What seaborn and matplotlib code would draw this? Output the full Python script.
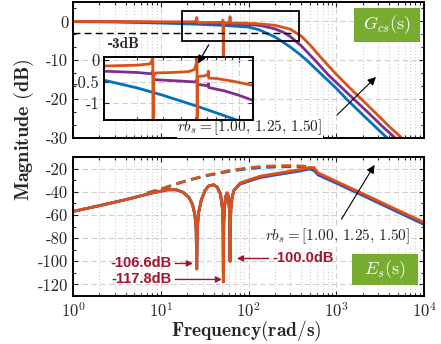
import matplotlib
matplotlib.use("Agg")
import matplotlib.pyplot as plt
import seaborn as sns
from matplotlib.patches import Rectangle
from matplotlib.ticker import LogLocator, NullFormatter, AutoMinorLocator

# ---------------- data ----------------
# Top: G_cs(s) magnitude (dB), three rb_s values
g_blue_f = [1, 3, 6, 12, 25, 50, 100, 130, 160, 200, 250, 300, 376, 461, 700, 1000, 1310, 2000, 3000, 3800, 4500]
g_blue_db = [-0.05, -0.15, -0.3, -0.47, -0.7, -1.0, -1.45, -2.1, -3.0, -4.0, -5.4, -6.6, -8.3, -10, -13.9, -17.2, -20, -24, -27.8, -30, -31.6]
g_purple_f = [1, 5, 12, 25, 27, 50, 54, 80, 125, 150, 200, 250, 300, 400, 573, 800, 1000, 1640, 2500, 3500, 4700, 5500]
g_purple_db = [0, -0.1, -0.26, -0.33, -0.45, -0.5, -0.58, -0.75, -0.94, -1.25, -1.9, -2.8, -3.9, -6.3, -10, -13.6, -15.7, -20.3, -24.2, -27.4, -30, -31.5]
g_orange_f = [1, 10, 20, 25.2, 25.7, 26.2, 30, 50, 51.2, 51.7, 52.2, 55, 61.1, 61.6, 62.1, 80, 125, 200, 300, 400, 500, 713, 1000, 1500, 2000, 3000, 4000, 5600, 6500]
g_orange_db = [0, -0.1, -0.1, -0.05, 1.0, -0.3, -0.3, -0.25, 0.3, -12, -0.4, -0.37, -0.3, 1.2, -0.42, -0.45, -0.59, -1.0, -2.0, -3.8, -6.0, -10.0, -13.6, -17.6, -20.3, -24.2, -27.0, -30, -31.5]

# Inset detail of G_cs(s)
in_blue_f = [11.8, 20, 30, 51, 70, 97.5, 125]
in_blue_db = [-0.47, -0.65, -0.82, -1.07, -1.23, -1.4, -1.6]
in_purple_f = [11.8, 20, 25, 25.6, 25.8, 27, 40, 50, 51.6, 51.8, 53, 61.4, 61.7, 62, 80, 100, 125]
in_purple_db = [-0.26, -0.29, -0.32, -0.26, -0.45, -0.46, -0.49, -0.51, -0.46, -0.57, -0.57, -0.6, -0.55, -0.64, -0.72, -0.82, -0.94]
in_orange_f = [11.8, 20, 24.5, 25.3, 25.55, 25.7, 25.85, 27, 35, 45, 49.5, 51.2, 51.55, 51.7, 51.85, 53, 58, 61.3, 61.6, 62, 70, 90, 125]
in_orange_db = [-0.14, -0.12, -0.09, -0.02, 0.04, -3.0, -0.35, -0.3, -0.29, -0.27, -0.22, -0.05, 0.04, -3.0, -0.42, -0.38, -0.37, -0.33, -0.26, -0.42, -0.43, -0.49, -0.59]

# Bottom: E_s(s) magnitude (dB)
e_f = [1, 2, 4, 8, 12, 15, 18, 21, 23, 24.5, 25.3, 25.7, 26.1, 27, 29, 32, 35, 40, 44, 48, 50.5, 51.3, 51.7,
       52.2, 53.5, 55, 57, 59, 60.5, 61.2, 61.6, 62.1, 63, 65, 68, 80, 104, 135, 228, 386, 500, 560, 620,
       1000, 2000, 5000, 10000]
e_low = [-57, -52, -46.8, -41, -38.3, -38.3, -40.5, -45, -51, -60, -72, -106.6, -72, -58, -47, -39, -35, -34,
         -36, -42, -55, -70, -117.8, -68, -52, -44, -41, -44, -55, -70, -100, -68, -55, -45, -39]
e_orange_db = e_low + [-32.5, -29.5, -26.6, -23.7, -20.9, -19.0, -19.2, -23.7, -31.0, -41.6, -55.8, -66.4]
e_purple_db = e_low + [-32.9, -30.0, -27.2, -24.3, -21.5, -19.6, -20.4, -24.6, -31.8, -42.4, -56.6, -67.3]
e_blue_db = e_low + [-33.4, -30.6, -27.8, -24.9, -22.1, -20.3, -21.8, -25.5, -32.6, -43.2, -57.5, -68.2]

e_dash_f = [7, 10, 14, 20, 33, 61, 100, 135, 200, 300, 420, 500]
e_dash_orange = [-41, -37.8, -34, -30.3, -25.8, -21.7, -19.3, -18.3, -17.6, -17.4, -17.8, -19.0]
e_dash_blue = [-41, -37.8, -34, -30.3, -26.2, -22.3, -20.1, -19.3, -18.6, -18.4, -18.8, -20.0]

notch_f = [25.7, 51.7, 61.6]
notch_db = [-106.6, -117.8, -100.0]
notch_labels = ["-106.6dB", "-117.8dB", "-100.0dB"]
rb_text = r"$rb_s=[1.00,\,1.25,\,1.50]$"
ref_db = -3

C_BLUE, C_PURPLE, C_ORANGE = "#0072BD", "#7E2F8E", "#D95319"
C_RED = "#A2142F"
C_GREEN = "#77AC30"

# ---------------- style ----------------
sns.set_style("ticks")
plt.rcParams["font.family"] = ["cmr10", "DejaVu Serif"]
plt.rcParams["mathtext.fontset"] = "cm"
plt.rcParams["axes.unicode_minus"] = False
plt.rcParams["axes.formatter.use_mathtext"] = True

W, H = 441, 344
fig = plt.figure(figsize=(W / 100, H / 100), dpi=100)

def px_rect(x0, y0, x1, y1):
    return [x0 / W, 1 - y1 / H, (x1 - x0) / W, (y1 - y0) / H]

ax1 = fig.add_axes(px_rect(73, 2, 424, 138))
ax2 = fig.add_axes(px_rect(73, 157, 424, 296))
axi = fig.add_axes(px_rect(104, 57, 253, 120), zorder=5)

LW = 2.0

def style_axes(ax, fs=12):
    ax.set_xscale("log")
    for s in ax.spines.values():
        s.set_linewidth(1.4)
        s.set_color("black")
    ax.tick_params(which="both", direction="in", top=True, right=True, labelsize=fs, width=0.8)
    ax.tick_params(which="major", length=3.5)
    ax.tick_params(which="minor", length=2)
    ax.xaxis.set_major_locator(LogLocator(base=10, numticks=10))
    ax.xaxis.set_minor_locator(LogLocator(base=10, subs=range(2, 10), numticks=20))
    ax.xaxis.set_minor_formatter(NullFormatter())
    ax.grid(True, which="major", axis="both", ls=(0, (5, 3)), color="#cfcfcf", lw=0.8)
    ax.grid(True, which="minor", axis="x", ls=(0, (1, 2)), color="#cfcfcf", lw=0.8)
    ax.set_axisbelow(True)

# ---------------- top: G_cs ----------------
for f, v, c in [(g_blue_f, g_blue_db, C_BLUE), (g_purple_f, g_purple_db, C_PURPLE), (g_orange_f, g_orange_db, C_ORANGE)]:
    sns.lineplot(x=f, y=v, ax=ax1, color=c, lw=LW, estimator=None, sort=False)
style_axes(ax1)
ax1.set_xlim(1, 1e4)
ax1.set_ylim(-30, 5)
ax1.set_yticks([0, -10, -20, -30])
ax1.set_yticklabels(["0", "-10", "-20", "-30"])
ax1.yaxis.set_minor_locator(AutoMinorLocator(3))
ax1.set_xticklabels([])
ax1.set_xlabel("")
ax1.set_ylabel("")
ax1.plot([1, 323], [ref_db, ref_db], color="black", ls=(0, (5, 3)), lw=1.0)
ax1.add_patch(Rectangle((17.5, -5.1), 376 - 17.5, 7.66, fill=False, ec="black", lw=1.3, zorder=4))
ax1.text(3.8, -5.9, "-3dB", fontsize=11, family=["cmb10", "DejaVu Serif"], ha="center", va="center")
# green tag
ax1.add_patch(Rectangle((0.80, 0.706), 0.189, 0.25, transform=ax1.transAxes, fc=C_GREEN, ec="none", zorder=6))
ax1.text(0.8945, 0.831, r"$G_{cs}(\mathrm{s})$", transform=ax1.transAxes, color="white", fontsize=13,
         ha="center", va="center", zorder=7)
ax1.text(10 ** ((250 - 73) / 87.75), -(127 - 21) / 3.9, rb_text, fontsize=11, ha="center", va="center",
         zorder=6, bbox=dict(fc="white", ec="none", pad=0.5))
ax1.annotate("", xy=(2990, -13.8), xytext=(968, -24.6),
             arrowprops=dict(arrowstyle="-|>", color="black", lw=0.8, mutation_scale=12))

# ---------------- inset ----------------
for f, v, c in [(in_blue_f, in_blue_db, C_BLUE), (in_purple_f, in_purple_db, C_PURPLE), (in_orange_f, in_orange_db, C_ORANGE)]:
    sns.lineplot(x=f, y=v, ax=axi, color=c, lw=LW, estimator=None, sort=False)
style_axes(axi)
axi.set_facecolor("white")
axi.set_xlim(11.8, 125)
axi.set_ylim(-1.395, 0.07)
axi.set_yticks([0, -0.5, -1])
axi.set_yticklabels(["0", "-0.5", "-1"])
axi.set_xticklabels([])
axi.tick_params(which="both", labelbottom=False)
axi.set_xlabel("")
axi.set_ylabel("")
axi.annotate("", xy=(51.0, -0.14), xytext=(36.5, -5.4), textcoords=ax1.transData, annotation_clip=False,
             arrowprops=dict(arrowstyle="-|>", color="black", lw=0.9, mutation_scale=12))

# ---------------- bottom: E_s ----------------
for f, v, c in [(e_dash_f, e_dash_blue, C_BLUE), (e_dash_f, e_dash_orange, C_ORANGE)]:
    sns.lineplot(x=f, y=v, ax=ax2, color=c, lw=LW, estimator=None, sort=False)
    ax2.lines[-1].set_linestyle((0, (3.5, 2)))
for f, v, c in [(e_f, e_blue_db, C_BLUE), (e_f, e_purple_db, C_PURPLE), (e_f, e_orange_db, C_ORANGE)]:
    sns.lineplot(x=f, y=v, ax=ax2, color=c, lw=LW, estimator=None, sort=False)
style_axes(ax2)
ax2.set_xlim(1, 1e4)
ax2.set_ylim(-130, -10)
ax2.set_yticks([-20, -40, -60, -80, -100, -120])
ax2.set_yticklabels(["-20", "-40", "-60", "-80", "-100", "-120"])
ax2.yaxis.set_minor_locator(AutoMinorLocator(2))
ax2.set_xticks([1, 10, 100, 1000, 10000])
ax2.set_xticklabels([r"$10^{0}$", r"$10^{1}$", r"$10^{2}$", r"$10^{3}$", r"$10^{4}$"])
ax2.tick_params(axis="x", pad=4)
ax2.set_xlabel("")
ax2.set_ylabel("")

ann_text_xy = [(13.4, -101.9), (13.4, -115.7), (185, -97.6)]
ann_tip_xy = [(23.3, -101.9), (49.9, -115.7), (73.7, -97.6)]
for lab, txy, tip, ha in zip(notch_labels, ann_text_xy, ann_tip_xy, ["right", "right", "left"]):
    ax2.annotate(lab, xy=tip, xytext=txy, ha=ha, va="center", color=C_RED, fontsize=10.5, fontweight="bold",
                 family=["Liberation Sans"],
                 arrowprops=dict(arrowstyle="-|>", color=C_RED, lw=1.0, mutation_scale=9, shrinkA=0, shrinkB=0))

ax2.add_patch(Rectangle((0.795, 0.079), 0.188, 0.223, transform=ax2.transAxes, fc=C_GREEN, ec="none", zorder=6))
ax2.text(0.889, 0.19, r"$E_{s}(\mathrm{s})$", transform=ax2.transAxes, color="white", fontsize=13,
         ha="center", va="center", zorder=7)
ax2.text(10 ** ((338 - 73) / 87.75), -20 - (237 - 169) / 1.16, rb_text, fontsize=11, ha="center", va="center",
         zorder=6, bbox=dict(fc="white", ec="none", pad=0.5))
ax2.annotate("", xy=(2838, -14.8), xytext=(1104, -65.7),
             arrowprops=dict(arrowstyle="-|>", color="black", lw=0.8, mutation_scale=12))

# ---------------- labels ----------------
fig.text(24 / W, 1 - 130 / H, r"$\mathbf{Magnitude\ (dB)}$", rotation=90, ha="center", va="center", fontsize=14.5)
fig.text(246 / W, 1 - 331 / H, r"$\mathbf{Frequency(rad/s)}$", ha="center", va="center", fontsize=14)

fig.savefig("out.png", dpi=100)
